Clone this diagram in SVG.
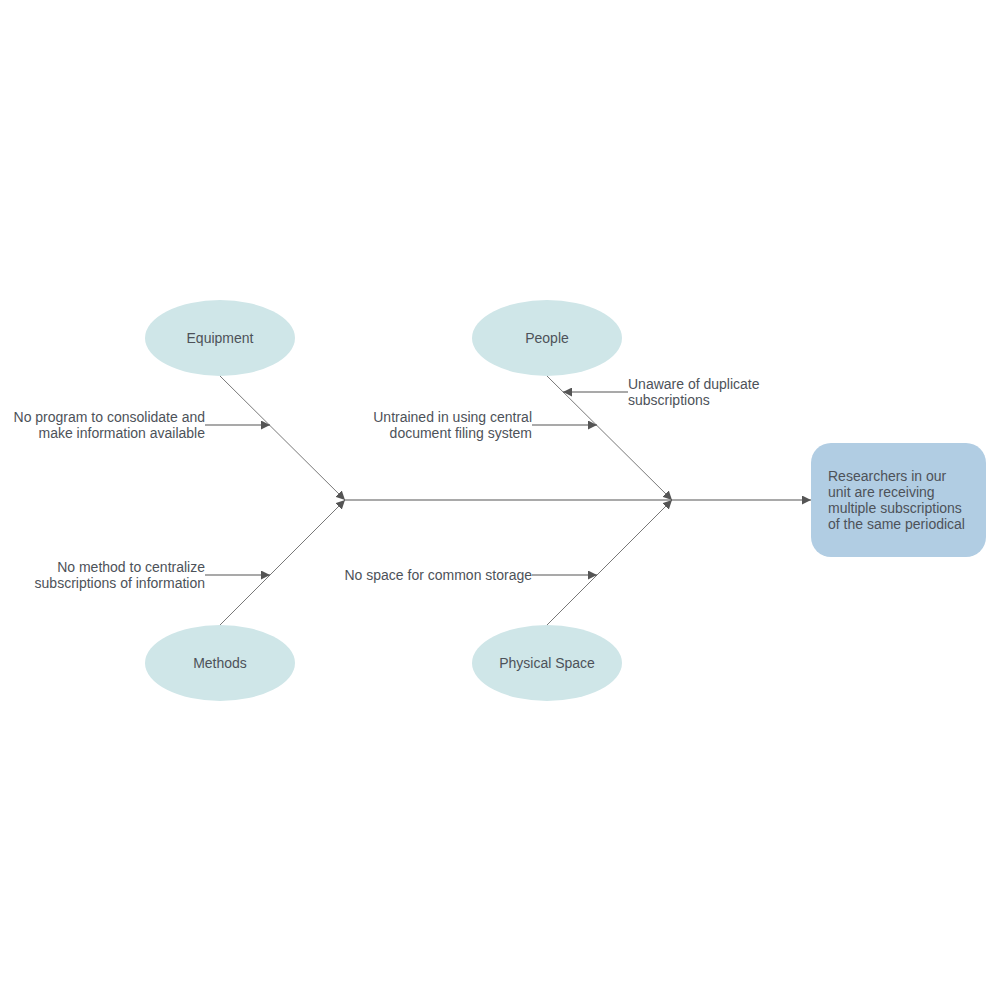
<svg xmlns="http://www.w3.org/2000/svg" width="1000" height="1000" viewBox="0 0 1000 1000">
<style>
.cat{fill:#cfe6e8;stroke:none}
.lbl{font-family:"Liberation Sans",Arial,sans-serif;font-size:14px;fill:#4d5259}
.mid{text-anchor:middle;dominant-baseline:central}
.end{text-anchor:end}
.bone{stroke:#555;stroke-width:0.8;fill:none}
.arr{stroke:#555;stroke-width:1.2;fill:none}
</style>
<defs>
<marker id="ah" viewBox="0 0 10 10" refX="10" refY="5" markerWidth="9" markerHeight="9" markerUnits="userSpaceOnUse" orient="auto">
<path d="M0,0 L10,5 L0,10 z" fill="#555"/>
</marker>
</defs>
<rect width="1000" height="1000" fill="#fff"/>
<g id="connectors">
<line class="arr" x1="345" y1="500" x2="811" y2="500" marker-end="url(#ah)"/>
<line class="bone" x1="220" y1="376" x2="345" y2="500" marker-end="url(#ah)"/>
<line class="bone" x1="220" y1="625" x2="345" y2="500" marker-end="url(#ah)"/>
<line class="bone" x1="547" y1="376" x2="672" y2="500" marker-end="url(#ah)"/>
<line class="bone" x1="547" y1="625" x2="672" y2="500" marker-end="url(#ah)"/>
<line class="arr" x1="205" y1="425" x2="270" y2="425" marker-end="url(#ah)"/>
<line class="arr" x1="532" y1="425" x2="597" y2="425" marker-end="url(#ah)"/>
<line class="arr" x1="628" y1="392" x2="563" y2="392" marker-end="url(#ah)"/>
<line class="arr" x1="205" y1="575" x2="270" y2="575" marker-end="url(#ah)"/>
<line class="arr" x1="532" y1="575" x2="597" y2="575" marker-end="url(#ah)"/>
</g>
<g id="equipment">
<ellipse class="cat" cx="220" cy="338" rx="75" ry="38"/>
<text class="lbl mid" x="220" y="338">Equipment</text>
</g>
<g id="people">
<ellipse class="cat" cx="547" cy="338" rx="75" ry="38"/>
<text class="lbl mid" x="547" y="338">People</text>
</g>
<g id="methods">
<ellipse class="cat" cx="220" cy="663" rx="75" ry="38"/>
<text class="lbl mid" x="220" y="663">Methods</text>
</g>
<g id="physical-space">
<ellipse class="cat" cx="547" cy="663" rx="75" ry="38"/>
<text class="lbl mid" x="547" y="663">Physical Space</text>
</g>
<g id="effect">
<rect x="811" y="443" width="175" height="114" rx="20" ry="20" fill="#b1cde3"/>
<text class="lbl" x="828" y="481">Researchers in our</text>
<text class="lbl" x="828" y="497">unit are receiving</text>
<text class="lbl" x="828" y="513">multiple subscriptions</text>
<text class="lbl" x="828" y="529">of the same periodical</text>
</g>
<g id="cause-equipment">
<text class="lbl end" x="205" y="422">No program to consolidate and</text>
<text class="lbl end" x="205" y="438">make information available</text>
</g>
<g id="cause-people-1">
<text class="lbl end" x="532" y="422">Untrained in using central</text>
<text class="lbl end" x="532" y="438">document filing system</text>
</g>
<g id="cause-people-2">
<text class="lbl" x="628" y="389">Unaware of duplicate</text>
<text class="lbl" x="628" y="405">subscriptions</text>
</g>
<g id="cause-methods">
<text class="lbl end" x="205" y="572">No method to centralize</text>
<text class="lbl end" x="205" y="588">subscriptions of information</text>
</g>
<g id="cause-physical">
<text class="lbl end" x="532" y="580">No space for common storage</text>
</g>
</svg>
